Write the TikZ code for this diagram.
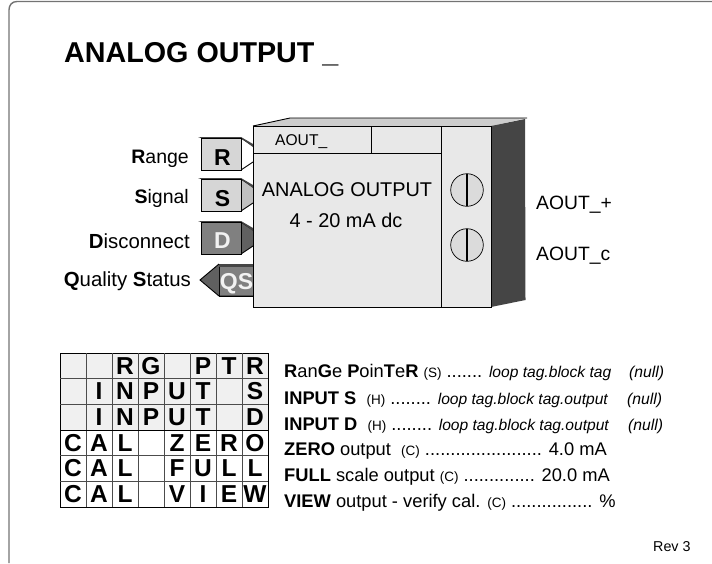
\documentclass[tikz,border=0pt]{standalone}
\usepackage{fontspec}
\setmainfont{Liberation Sans}
\tikzset{
  lbl/.style={inner sep=0pt,anchor=base east,font=\fontsize{19.5}{19.5}\selectfont},
  lblwide/.style={inner sep=0pt,anchor=base east,font=\fontsize{20.4}{20.4}\selectfont},
  outlbl/.style={inner sep=0pt,anchor=base west,font=\fontsize{19.3}{19.3}\selectfont},
  rowtxt/.style={inner sep=0pt,anchor=base west,font=\fontsize{18.3}{18.3}\selectfont},
  nul/.style={inner sep=0pt,anchor=base west,font=\fontsize{15.7}{15.7}\selectfont\itshape},
  cellb/.style={inner sep=0pt,anchor=base,font=\fontsize{24.5}{24.5}\selectfont\bfseries},
  tabl/.style={inner sep=0pt,anchor=base,font=\fontsize{23}{23}\selectfont\bfseries},
  edgeln/.style={draw=black,line width=0.9pt},
}
\definecolor{face}{HTML}{E8E8E8}
\definecolor{tabg}{HTML}{D6D6D6}
\definecolor{tabh}{HTML}{C0C0C0}
\definecolor{tabd}{HTML}{808080}
\definecolor{tabdd}{HTML}{606060}
\definecolor{side}{HTML}{454545}
\definecolor{topf}{HTML}{CDCDCD}
\newcommand{\inarrow}[3]{%
  \fill[#3] (241,#1) -- (253,#1+7) -- (253,#1+24) -- (241,#1+32) -- cycle;
  \draw[edgeln] (241,#1) -- (253,#1+8) (253,#1+24) -- (241,#1+32);
  \fill[side] (198,#1-1) -- (241,#1-1) -- (253,#1+6) -- (253,#1+9) -- (241,#1) -- (201,#1) -- cycle;
  \draw[edgeln,fill=#2] (201,#1) rectangle (241,#1+32);
}
\begin{document}
\begin{tikzpicture}[x=1pt,y=-1pt]
\useasboundingbox (0,0) rectangle (712,563);
% frame
\draw[draw=black!55,line width=1.4pt] (9,563) -- (9,10) .. controls (9,5) and (12,1.5) .. (17,1.5) -- (712,1.5);
\node[inner sep=0pt,anchor=base west,font=\fontsize{28.7}{28.7}\selectfont\bfseries] (title) at (64,62) {ANALOG OUTPUT \_};
% block
\fill[topf] (253,126) -- (290,118) -- (527,118) -- (491,126) -- cycle;
\draw[edgeln] (253,126) -- (290,118) -- (527,118);
\fill[side] (491,126) -- (525,119) -- (525.5,300) -- (491,307) -- cycle;
\draw[edgeln,fill=face] (253,126) rectangle (491,307);
\draw[edgeln] (441,126) -- (441,307) (253,153) -- (441,153) (371,126) -- (371,153);
\draw[draw=black,line width=0.7pt,fill=tabg!70!face] (467,190) circle[radius=16.3];
\draw[draw=black,line width=0.7pt,fill=tabg!70!face] (467,245) circle[radius=16.3];
\draw[line width=1.6pt] (467,174) -- (467,206) (467,229) -- (467,261);
% tabs
\inarrow{138}{tabg}{white}
\inarrow{179}{tabg}{tabh}
\inarrow{222}{tabd}{tabdd}
\node[tabl] (r) at (222.5,165) {R};
\node[tabl] (s) at (222.5,206) {S};
\node[tabl,text=white!90!gray] (d) at (222.5,248) {D};
% QS
\draw[edgeln,fill=tabd] (219,264) -- (253,264) -- (253,296) -- (219,296) -- cycle;
\fill[side] (219,264) -- (253,264) -- (253,267) -- (219,267) -- cycle;
\fill[tabdd] (200,280) -- (219,264) -- (219,296) -- cycle;
\draw[edgeln] (253,296) -- (219,296) -- (200,280) -- (219,264);
\node[tabl,text=white!90!gray] (qs) at (236.5,289) {QS};
\draw[edgeln] (253,126) -- (253,307);
% left labels
\node[lbl] at (189,163) {\textbf{R}ange};
\node[lbl] at (189,203) {\textbf{S}ignal};
\node[lblwide] at (190,248) {\textbf{D}isconnect};
\node[lblwide] at (191,286) {\textbf{Q}uality \textbf{S}tatus};
% block text
\node[inner sep=0pt,anchor=base west,font=\fontsize{15.6}{15.6}\selectfont] at (275,145) {AOUT\_};
\node[inner sep=0pt,anchor=base,font=\fontsize{19.9}{19.9}\selectfont] at (347,196) {ANALOG OUTPUT};
\node[inner sep=0pt,anchor=base,font=\fontsize{19.9}{19.9}\selectfont] at (346,227) {4 - 20 mA dc};
\node[outlbl] at (536,209) {AOUT\_+};
\node[outlbl] at (536,260) {AOUT\_c};
% grid
\fill[black!6] (60,353) rectangle (268,430);
\draw[draw=black,line width=0.9pt] (60,353) rectangle (268,507);
\foreach \i in {1,...,7} \draw[draw=black!70,line width=1pt] (60+26*\i,353) -- (60+26*\i,507);
\foreach \i in {1,...,5} \draw[draw=black!70,line width=1pt] (60,353+25.67*\i) -- (268,353+25.67*\i);
\draw[line width=1pt] (60,430) -- (268,430);
\foreach \r/\word in {0/{,,R,G,,P,T,R},1/{,I,N,P,U,T,,S},2/{,I,N,P,U,T,,D},3/{C,A,L,,Z,E,R,O},4/{C,A,L,,F,U,L,L},5/{C,A,L,,V,I,E,W}}{
  \foreach \c [count=\k from 0] in \word {
    \node[cellb] at (73+26*\k,353+25.67*\r+21) {\c};
  }
}
% rows
\newcommand{\sm}[1]{{\fontsize{13.5}{13.5}\selectfont #1}}
\newcommand{\itl}[1]{{\itshape\fontsize{15.6}{15.6}\selectfont #1}}
\node[rowtxt] at (284,377) {\textbf{R}an\textbf{G}e \textbf{P}oin\textbf{T}e\textbf{R} \sm{(S)} ....... \itl{loop tag.block tag}};
\node[rowtxt] at (284,404) {\textbf{INPUT S} \ \sm{(H)} ........ \itl{loop tag.block tag.output}};
\node[rowtxt] at (284,430) {\textbf{INPUT D} \ \sm{(H)} ........ \itl{loop tag.block tag.output}};
\node[rowtxt] at (284,455) {\textbf{ZERO} output \ \sm{(C)} ....................... 4.0 mA};
\node[rowtxt] at (284,481) {\textbf{FULL} scale output \sm{(C)} .............. 20.0 mA};
\node[rowtxt] at (284,507) {\textbf{VIEW} output - verify cal. \sm{(C)} ................ \%};
\node[nul] at (629,377) {(null)};
\node[nul] at (627,404) {(null)};
\node[nul] at (628,430) {(null)};
\node[inner sep=0pt,anchor=base west,font=\fontsize{14.3}{14.3}\selectfont] at (653,551) {Rev 3};
\end{tikzpicture}
\end{document}
